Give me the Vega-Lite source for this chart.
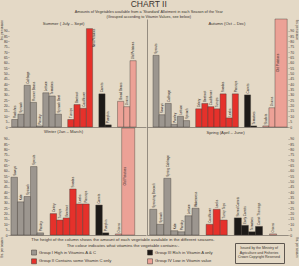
{
  "$schema": "https://vega.github.io/schema/vega-lite/v6.json",
  "background": "#e4d9c6",
  "padding": {"left": 0, "top": 0, "right": 1, "bottom": 2},
  "title": {
    "text": "CHART II",
    "subtitle": ["Amounts of Vegetables available from a \u2018Standard\u2019 Allotment in each Season of the Year", "(Grouped according to Vitamin Values, see below)"],
    "fontSize": 8.5, "fontWeight": "normal", "color": "#3a342f",
    "subtitleFontSize": 3.8, "subtitleColor": "#3a342f", "subtitlePadding": 1.5, "subtitleLineHeight": 4.6,
    "anchor": "middle", "offset": 0
  },
  "datasets": {
    "veg": [
      {"season": "Summer", "veg": "Radishes", "group": "Group I", "lbs": 7},
      {"season": "Summer", "veg": "Spinach", "group": "Group I", "lbs": 12},
      {"season": "Summer", "veg": "Cabbage", "group": "Group I", "lbs": 39},
      {"season": "Summer", "veg": "Runner Beans", "group": "Group I", "lbs": 23},
      {"season": "Summer", "veg": "Parsley", "group": "Group I", "lbs": 1},
      {"season": "Summer", "veg": "Lettuce", "group": "Group I", "lbs": 32},
      {"season": "Summer", "veg": "Tomatoes", "group": "Group I", "lbs": 29},
      {"season": "Summer", "veg": "Spinach Beet", "group": "Group I", "lbs": 12},
      {"season": "Summer", "veg": "Turnips", "group": "Group II", "lbs": 7},
      {"season": "Summer", "veg": "Beetroot", "group": "Group II", "lbs": 21},
      {"season": "Summer", "veg": "Cauliflower", "group": "Group II", "lbs": 17.5},
      {"season": "Summer", "veg": "New Potatoes", "group": "Group II", "lbs": 92},
      {"season": "Summer", "veg": "Carrots", "group": "Group III", "lbs": 31},
      {"season": "Summer", "veg": "Pumpkin", "group": "Group III", "lbs": 2},
      {"season": "Summer", "veg": "Broad Beans", "group": "Group IV", "lbs": 24},
      {"season": "Summer", "veg": "Onions", "group": "Group IV", "lbs": 19},
      {"season": "Summer", "veg": "Old Potatoes", "group": "Group IV", "lbs": 62},

      {"season": "Autumn", "veg": "Sprouts", "group": "Group I", "lbs": 67},
      {"season": "Autumn", "veg": "Savoys", "group": "Group I", "lbs": 11.5},
      {"season": "Autumn", "veg": "Cabbage", "group": "Group I", "lbs": 22},
      {"season": "Autumn", "veg": "Parsley", "group": "Group I", "lbs": 2.5},
      {"season": "Autumn", "veg": "Lettuce", "group": "Group I", "lbs": 10},
      {"season": "Autumn", "veg": "Spinach", "group": "Group I", "lbs": 6},
      {"season": "Autumn", "veg": "Celery", "group": "Group II", "lbs": 17},
      {"season": "Autumn", "veg": "Beetroot", "group": "Group II", "lbs": 22},
      {"season": "Autumn", "veg": "Cauliflower", "group": "Group II", "lbs": 19},
      {"season": "Autumn", "veg": "Turnips", "group": "Group II", "lbs": 17},
      {"season": "Autumn", "veg": "Swedes", "group": "Group II", "lbs": 31},
      {"season": "Autumn", "veg": "Leeks", "group": "Group II", "lbs": 8.5},
      {"season": "Autumn", "veg": "Parsnips", "group": "Group II", "lbs": 31},
      {"season": "Autumn", "veg": "Carrots", "group": "Group III", "lbs": 30},
      {"season": "Autumn", "veg": "Tomatoes", "group": "Group III", "lbs": 1},
      {"season": "Autumn", "veg": "Shallots", "group": "Group IV", "lbs": 1},
      {"season": "Autumn", "veg": "Onions", "group": "Group IV", "lbs": 18},
      {"season": "Autumn", "veg": "Old Potatoes", "group": "Group IV", "lbs": 101},

      {"season": "Winter", "veg": "Savoys", "group": "Group I", "lbs": 54},
      {"season": "Winter", "veg": "Kale", "group": "Group I", "lbs": 31},
      {"season": "Winter", "veg": "Spinach", "group": "Group I", "lbs": 36},
      {"season": "Winter", "veg": "Sprouts", "group": "Group I", "lbs": 64},
      {"season": "Winter", "veg": "Parsley", "group": "Group I", "lbs": 2},
      {"season": "Winter", "veg": "Celery", "group": "Group II", "lbs": 20},
      {"season": "Winter", "veg": "Turnips", "group": "Group II", "lbs": 14},
      {"season": "Winter", "veg": "Beetroot", "group": "Group II", "lbs": 16},
      {"season": "Winter", "veg": "Swedes", "group": "Group II", "lbs": 43},
      {"season": "Winter", "veg": "Leeks", "group": "Group II", "lbs": 29},
      {"season": "Winter", "veg": "Parsnips", "group": "Group II", "lbs": 29},
      {"season": "Winter", "veg": "Carrots", "group": "Group III", "lbs": 28},
      {"season": "Winter", "veg": "Pumpkin", "group": "Group III", "lbs": 2},
      {"season": "Winter", "veg": "Onions", "group": "Group IV", "lbs": 1},
      {"season": "Winter", "veg": "Old Potatoes", "group": "Group IV", "lbs": 100},

      {"season": "Spring", "veg": "Sprouting Broccoli", "group": "Group I", "lbs": 24},
      {"season": "Spring", "veg": "Spinach", "group": "Group I", "lbs": 10},
      {"season": "Spring", "veg": "Spring Cabbage", "group": "Group I", "lbs": 53},
      {"season": "Spring", "veg": "Kale", "group": "Group I", "lbs": 4},
      {"season": "Spring", "veg": "Parsley", "group": "Group I", "lbs": 3},
      {"season": "Spring", "veg": "Lettuce", "group": "Group I", "lbs": 18},
      {"season": "Spring", "veg": "Watercress", "group": "Group I", "lbs": 25},
      {"season": "Spring", "veg": "Cauliflower", "group": "Group II", "lbs": 10},
      {"season": "Spring", "veg": "Leeks", "group": "Group II", "lbs": 24},
      {"season": "Spring", "veg": "Turnip Tops", "group": "Group II", "lbs": 14},
      {"season": "Spring", "veg": "Stored Carrots", "group": "Group III", "lbs": 16},
      {"season": "Spring", "veg": "Early Carrots", "group": "Group III", "lbs": 9},
      {"season": "Spring", "veg": "Tomatoes", "group": "Group III", "lbs": 3},
      {"season": "Spring", "veg": "Carrot Thinnings", "group": "Group III", "lbs": 8},
      {"season": "Spring", "veg": "Onions", "group": "Group IV", "lbs": 1}
    ]
  },
  "data": {"name": "veg"},
  "columns": 2,
  "spacing": {"row": 0, "column": 1},
  "bounds": "flush",
  "resolve": {"scale": {"color": "shared"}, "legend": {"color": "shared"}},
  "concat": [
    {
      "width": 137, "height": 108,
      "title": {"text": "Summer ( July \u2013 Sept)", "fontSize": 4.2, "fontWeight": "normal", "offset": -7, "dx": -14, "anchor": "middle", "color": "#3a342f"},
      "transform": [{"filter": "datum.season == 'Summer'"}],
      "encoding": {
        "x": {"field": "veg", "type": "nominal",
          "scale": {"domain": ["Radishes","Spinach","Cabbage","Runner Beans","Parsley","Lettuce","Tomatoes","Spinach Beet"," ","Turnips","Beetroot","Cauliflower","New Potatoes","  ","Carrots","Pumpkin","   ","Broad Beans","Onions","Old Potatoes"], "paddingInner": 0, "paddingOuter": 1.138, "align": 0.214},
          "axis": {"labels": false, "ticks": false, "title": null, "domainColor": "#5e5750", "domainWidth": 0.6}}
      },
      "resolve": {"axis": {"y": "independent"}},
      "layer": [
        {"transform": [{"filter": "datum.lbs <= 95"}],
         "mark": {"type": "bar", "stroke": "#3e3934", "strokeWidth": 0.4},
         "encoding": {
           "y": {"field": "lbs", "type": "quantitative", "scale": {"domain": [0, 101], "nice": false},
             "axis": {"orient": "left", "values": [0,5,10,15,20,25,30,35,40,45,50,55,60,65,70,75,80,85,90], "labelFontSize": 3.4, "tickSize": 1.2, "tickWidth": 0.4, "labelPadding": 0.6, "domain": false, "grid": false, "title": "lbs. per season", "titleFontSize": 3, "titleFontWeight": "normal", "titleAngle": 270, "titleX": -8, "titleY": 10.5, "titleAlign": "center", "titleBaseline": "middle"}},
           "color": {"field": "group", "type": "nominal", "scale": {"domain": ["Group I","Group II","Group III","Group IV"], "range": ["#9c968f","#e5312b","#1d1a18","#eca196"]},
             "legend": {"orient": "none", "legendX": 22, "legendY": 219, "title": ["The height of the column shows the amount of each vegetable available in the different seasons.", "The colour indicates what vitamins the vegetable contains:-"], "titleFontSize": 4.3, "titleFontWeight": "normal", "titleLineHeight": 5.5, "titleAnchor": "middle", "titleAlign": "center", "titlePadding": 1.5, "titleLimit": 300, "titleColor": "#3a342f", "columns": 2, "columnPadding": 32, "rowPadding": 1, "symbolType": "square", "symbolSize": 25, "symbolStrokeColor": "#3e3934", "symbolStrokeWidth": 0.5, "labelFontSize": 4.2, "labelOffset": 2, "labelColor": "#3a342f", "labelLimit": 300, "labelExpr": "datum.label == 'Group I' ? 'Group I   High in Vitamins A & C' : datum.label == 'Group II' ? 'Group II   Contains some Vitamin C only' : datum.label == 'Group III' ? 'Group III   Rich in Vitamin A only' : 'Group IV   Low in Vitamin value'"}}
         }},
        {"transform": [{"filter": "datum.lbs <= 80"}],
         "mark": {"type": "text", "angle": 270, "align": "left", "baseline": "middle", "dx": 1.5, "fontSize": 3, "fill": "#2e2925"},
         "encoding": {"y": {"field": "lbs", "type": "quantitative", "axis": null}, "text": {"field": "veg"}}},
        {"transform": [{"filter": "datum.lbs > 80 && datum.lbs <= 95"}],
         "mark": {"type": "text", "angle": 270, "align": "right", "baseline": "middle", "xOffset": 4.5, "fontSize": 3, "fill": "#2e2925"},
         "encoding": {"y": {"field": "lbs", "type": "quantitative", "axis": null}, "text": {"field": "veg"}}}
      ]
    },
    {
      "width": 141, "height": 108,
      "title": {"text": "Autumn (Oct \u2013 Dec)", "fontSize": 4.2, "fontWeight": "normal", "offset": -7, "dx": 9.5, "anchor": "middle", "color": "#3a342f"},
      "transform": [{"filter": "datum.season == 'Autumn'"}],
      "encoding": {
        "x": {"field": "veg", "type": "nominal",
          "scale": {"domain": ["Sprouts","Savoys","Cabbage","Parsley","Lettuce","Spinach"," ","Celery","Beetroot","Cauliflower","Turnips","Swedes","Leeks","Parsnips","  ","Carrots","Tomatoes","   ","Shallots","Onions","Old Potatoes","    "], "paddingInner": 0, "paddingOuter": 0.557, "align": 0.88},
          "axis": {"labels": false, "ticks": false, "title": null, "domainColor": "#5e5750", "domainWidth": 0.6}}
      },
      "resolve": {"axis": {"y": "independent"}},
      "layer": [
        {"transform": [{"filter": "datum.lbs <= 95"}],
         "mark": {"type": "bar", "stroke": "#3e3934", "strokeWidth": 0.4},
         "encoding": {
           "y": {"field": "lbs", "type": "quantitative", "scale": {"domain": [0, 101], "nice": false},
             "axis": {"orient": "right", "values": [0,5,10,15,20,25,30,35,40,45,50,55,60,65,70,75,80,85,90], "labelFontSize": 3.4, "tickSize": 1.2, "tickWidth": 0.4, "labelPadding": 0.6, "domain": false, "grid": false, "title": "lbs. per season", "titleFontSize": 3, "titleFontWeight": "normal", "titleAngle": 90, "titleX": 8.5, "titleY": 10.5, "titleAlign": "center", "titleBaseline": "middle"}},
           "color": {"field": "group", "type": "nominal", "scale": {"domain": ["Group I","Group II","Group III","Group IV"], "range": ["#9c968f","#e5312b","#1d1a18","#eca196"]},
             "legend": {"orient": "none", "legendX": 22, "legendY": 219, "title": ["The height of the column shows the amount of each vegetable available in the different seasons.", "The colour indicates what vitamins the vegetable contains:-"], "titleFontSize": 4.3, "titleFontWeight": "normal", "titleLineHeight": 5.5, "titleAnchor": "middle", "titleAlign": "center", "titlePadding": 1.5, "titleLimit": 300, "titleColor": "#3a342f", "columns": 2, "columnPadding": 32, "rowPadding": 1, "symbolType": "square", "symbolSize": 25, "symbolStrokeColor": "#3e3934", "symbolStrokeWidth": 0.5, "labelFontSize": 4.2, "labelOffset": 2, "labelColor": "#3a342f", "labelLimit": 300, "labelExpr": "datum.label == 'Group I' ? 'Group I   High in Vitamins A & C' : datum.label == 'Group II' ? 'Group II   Contains some Vitamin C only' : datum.label == 'Group III' ? 'Group III   Rich in Vitamin A only' : 'Group IV   Low in Vitamin value'"}}
         }},
        {"transform": [{"filter": "datum.lbs > 95"}],
         "mark": {"type": "bar", "width": {"band": 2}, "xOffset": 3.05, "stroke": "#3e3934", "strokeWidth": 0.4},
         "encoding": {
           "y": {"field": "lbs", "type": "quantitative", "axis": null},
           "color": {"field": "group", "type": "nominal", "scale": {"domain": ["Group I","Group II","Group III","Group IV"], "range": ["#9c968f","#e5312b","#1d1a18","#eca196"]},
             "legend": {"orient": "none", "legendX": 22, "legendY": 219, "title": ["The height of the column shows the amount of each vegetable available in the different seasons.", "The colour indicates what vitamins the vegetable contains:-"], "titleFontSize": 4.3, "titleFontWeight": "normal", "titleLineHeight": 5.5, "titleAnchor": "middle", "titleAlign": "center", "titlePadding": 1.5, "titleLimit": 300, "titleColor": "#3a342f", "columns": 2, "columnPadding": 32, "rowPadding": 1, "symbolType": "square", "symbolSize": 25, "symbolStrokeColor": "#3e3934", "symbolStrokeWidth": 0.5, "labelFontSize": 4.2, "labelOffset": 2, "labelColor": "#3a342f", "labelLimit": 300, "labelExpr": "datum.label == 'Group I' ? 'Group I   High in Vitamins A & C' : datum.label == 'Group II' ? 'Group II   Contains some Vitamin C only' : datum.label == 'Group III' ? 'Group III   Rich in Vitamin A only' : 'Group IV   Low in Vitamin value'"}}
         }},
        {"transform": [{"filter": "datum.lbs <= 80"}],
         "mark": {"type": "text", "angle": 270, "align": "left", "baseline": "middle", "dx": 1.5, "fontSize": 3, "fill": "#2e2925"},
         "encoding": {"y": {"field": "lbs", "type": "quantitative", "axis": {"orient": "left", "labels": false, "ticks": false, "title": null, "grid": false, "domain": true, "domainColor": "#5e5750", "domainWidth": 0.6}}, "text": {"field": "veg"}}},
        {"transform": [{"filter": "datum.lbs > 95"}],
         "mark": {"type": "text", "angle": 270, "align": "center", "baseline": "middle", "fontSize": 3.2, "fill": "#2e2925"},
         "encoding": {"y": {"datum": 60, "type": "quantitative", "axis": null}, "text": {"field": "veg"}}}
      ]
    },
    {
      "width": 137, "height": 108,
      "title": {"text": "Winter (Jan \u2013 March)", "fontSize": 4.2, "fontWeight": "normal", "offset": -7, "dx": -14, "anchor": "middle", "color": "#3a342f"},
      "transform": [{"filter": "datum.season == 'Winter'"}],
      "encoding": {
        "x": {"field": "veg", "type": "nominal",
          "scale": {"domain": ["Savoys","Kale","Spinach","Sprouts","Parsley"," ","Celery","Turnips","Beetroot","Swedes","Leeks","Parsnips","  ","Carrots","Pumpkin","   ","Onions","Old Potatoes","    "], "paddingInner": 0, "paddingOuter": 1.623, "align": 0.15},
          "axis": {"labels": false, "ticks": false, "title": null, "domainColor": "#5e5750", "domainWidth": 0.6}}
      },
      "resolve": {"axis": {"y": "independent"}},
      "layer": [
        {"transform": [{"filter": "datum.lbs <= 95"}],
         "mark": {"type": "bar", "stroke": "#3e3934", "strokeWidth": 0.4},
         "encoding": {
           "y": {"field": "lbs", "type": "quantitative", "scale": {"domain": [0, 101], "nice": false},
             "axis": {"orient": "left", "values": [0,5,10,15,20,25,30,35,40,45,50,55,60,65,70,75,80,85,90], "labelFontSize": 3.4, "tickSize": 1.2, "tickWidth": 0.4, "labelPadding": 0.6, "domain": false, "grid": false, "title": "lbs. per season", "titleFontSize": 3, "titleFontWeight": "normal", "titleAngle": 270, "titleX": -8, "titleY": 120, "titleAlign": "center", "titleBaseline": "middle"}},
           "color": {"field": "group", "type": "nominal", "scale": {"domain": ["Group I","Group II","Group III","Group IV"], "range": ["#9c968f","#e5312b","#1d1a18","#eca196"]},
             "legend": {"orient": "none", "legendX": 22, "legendY": 219, "title": ["The height of the column shows the amount of each vegetable available in the different seasons.", "The colour indicates what vitamins the vegetable contains:-"], "titleFontSize": 4.3, "titleFontWeight": "normal", "titleLineHeight": 5.5, "titleAnchor": "middle", "titleAlign": "center", "titlePadding": 1.5, "titleLimit": 300, "titleColor": "#3a342f", "columns": 2, "columnPadding": 32, "rowPadding": 1, "symbolType": "square", "symbolSize": 25, "symbolStrokeColor": "#3e3934", "symbolStrokeWidth": 0.5, "labelFontSize": 4.2, "labelOffset": 2, "labelColor": "#3a342f", "labelLimit": 300, "labelExpr": "datum.label == 'Group I' ? 'Group I   High in Vitamins A & C' : datum.label == 'Group II' ? 'Group II   Contains some Vitamin C only' : datum.label == 'Group III' ? 'Group III   Rich in Vitamin A only' : 'Group IV   Low in Vitamin value'"}}
         }},
        {"transform": [{"filter": "datum.lbs > 95"}],
         "mark": {"type": "bar", "width": {"band": 2}, "xOffset": 3.08, "stroke": "#3e3934", "strokeWidth": 0.4},
         "encoding": {
           "y": {"field": "lbs", "type": "quantitative", "axis": null},
           "color": {"field": "group", "type": "nominal", "scale": {"domain": ["Group I","Group II","Group III","Group IV"], "range": ["#9c968f","#e5312b","#1d1a18","#eca196"]},
             "legend": {"orient": "none", "legendX": 22, "legendY": 219, "title": ["The height of the column shows the amount of each vegetable available in the different seasons.", "The colour indicates what vitamins the vegetable contains:-"], "titleFontSize": 4.3, "titleFontWeight": "normal", "titleLineHeight": 5.5, "titleAnchor": "middle", "titleAlign": "center", "titlePadding": 1.5, "titleLimit": 300, "titleColor": "#3a342f", "columns": 2, "columnPadding": 32, "rowPadding": 1, "symbolType": "square", "symbolSize": 25, "symbolStrokeColor": "#3e3934", "symbolStrokeWidth": 0.5, "labelFontSize": 4.2, "labelOffset": 2, "labelColor": "#3a342f", "labelLimit": 300, "labelExpr": "datum.label == 'Group I' ? 'Group I   High in Vitamins A & C' : datum.label == 'Group II' ? 'Group II   Contains some Vitamin C only' : datum.label == 'Group III' ? 'Group III   Rich in Vitamin A only' : 'Group IV   Low in Vitamin value'"}}
         }},
        {"transform": [{"filter": "datum.lbs <= 80"}],
         "mark": {"type": "text", "angle": 270, "align": "left", "baseline": "middle", "dx": 1.5, "fontSize": 3, "fill": "#2e2925"},
         "encoding": {"y": {"field": "lbs", "type": "quantitative", "axis": null}, "text": {"field": "veg"}}},
        {"transform": [{"filter": "datum.lbs > 95"}],
         "mark": {"type": "text", "angle": 270, "align": "center", "baseline": "middle", "fontSize": 3.2, "fill": "#2e2925"},
         "encoding": {"y": {"datum": 55, "type": "quantitative", "axis": null}, "text": {"field": "veg"}}}
      ]
    },
    {
      "width": 141, "height": 108,
      "title": {"text": "Spring (April \u2013 June)", "fontSize": 4.2, "fontWeight": "normal", "offset": -8, "dx": 8, "anchor": "middle", "color": "#3a342f"},
      "transform": [{"filter": "datum.season == 'Spring'"}],
      "encoding": {
        "x": {"field": "veg", "type": "nominal",
          "scale": {"domain": ["Sprouting Broccoli","Spinach","Spring Cabbage","Kale","Parsley","Lettuce","Watercress"," ","Cauliflower","Leeks","Turnip Tops","  ","Stored Carrots","Early Carrots","Tomatoes","Carrot Thinnings","   ","Onions"], "paddingInner": 0, "paddingOuter": 2.557, "align": 0.192},
          "axis": {"labels": false, "ticks": false, "title": null, "domainColor": "#5e5750", "domainWidth": 0.6}}
      },
      "resolve": {"axis": {"y": "independent"}},
      "layer": [
        {"transform": [{"filter": "datum.lbs <= 95"}],
         "mark": {"type": "bar", "stroke": "#3e3934", "strokeWidth": 0.4},
         "encoding": {
           "y": {"field": "lbs", "type": "quantitative", "scale": {"domain": [0, 101], "nice": false},
             "axis": {"orient": "right", "values": [0,5,10,15,20,25,30,35,40,45,50,55,60,65,70,75,80,85,90], "labelFontSize": 3.4, "tickSize": 1.2, "tickWidth": 0.4, "labelPadding": 0.6, "domain": false, "grid": false, "title": "lbs. per season", "titleFontSize": 3, "titleFontWeight": "normal", "titleAngle": 90, "titleX": 8.5, "titleY": 120, "titleAlign": "center", "titleBaseline": "middle"}},
           "color": {"field": "group", "type": "nominal", "scale": {"domain": ["Group I","Group II","Group III","Group IV"], "range": ["#9c968f","#e5312b","#1d1a18","#eca196"]},
             "legend": {"orient": "none", "legendX": 22, "legendY": 219, "title": ["The height of the column shows the amount of each vegetable available in the different seasons.", "The colour indicates what vitamins the vegetable contains:-"], "titleFontSize": 4.3, "titleFontWeight": "normal", "titleLineHeight": 5.5, "titleAnchor": "middle", "titleAlign": "center", "titlePadding": 1.5, "titleLimit": 300, "titleColor": "#3a342f", "columns": 2, "columnPadding": 32, "rowPadding": 1, "symbolType": "square", "symbolSize": 25, "symbolStrokeColor": "#3e3934", "symbolStrokeWidth": 0.5, "labelFontSize": 4.2, "labelOffset": 2, "labelColor": "#3a342f", "labelLimit": 300, "labelExpr": "datum.label == 'Group I' ? 'Group I   High in Vitamins A & C' : datum.label == 'Group II' ? 'Group II   Contains some Vitamin C only' : datum.label == 'Group III' ? 'Group III   Rich in Vitamin A only' : 'Group IV   Low in Vitamin value'"}},
           "opacity": {"datum": "note", "type": "ordinal", "scale": {"range": [1, 1]},
             "legend": {"orient": "none", "legendX": 226, "legendY": 224, "title": ["Issued by the Ministry of", "Agriculture and Fisheries", "Crown Copyright Reserved"], "titleFontSize": 3.5, "titleFontWeight": "normal", "titleLineHeight": 4.6, "titleAlign": "center", "titleAnchor": "middle", "titleColor": "#3a342f", "titlePadding": 0, "strokeColor": "#5e5750", "padding": 3, "symbolOpacity": 0, "symbolSize": 0, "symbolStrokeWidth": 0, "labelExpr": "''", "labelFontSize": 1}}
         }},
        {"transform": [{"filter": "datum.lbs <= 80"}],
         "mark": {"type": "text", "angle": 270, "align": "left", "baseline": "middle", "dx": 1.5, "fontSize": 3, "fill": "#2e2925"},
         "encoding": {"y": {"field": "lbs", "type": "quantitative", "axis": {"orient": "left", "labels": false, "ticks": false, "title": null, "grid": false, "domain": true, "domainColor": "#5e5750", "domainWidth": 0.6}}, "text": {"field": "veg"}}}
      ]
    }
  ],
  "config": {
    "font": "Liberation Sans",
    "view": {"stroke": null},
    "axis": {"labelColor": "#3a342f", "tickColor": "#5e5750", "titleColor": "#3a342f"}
  }
}
